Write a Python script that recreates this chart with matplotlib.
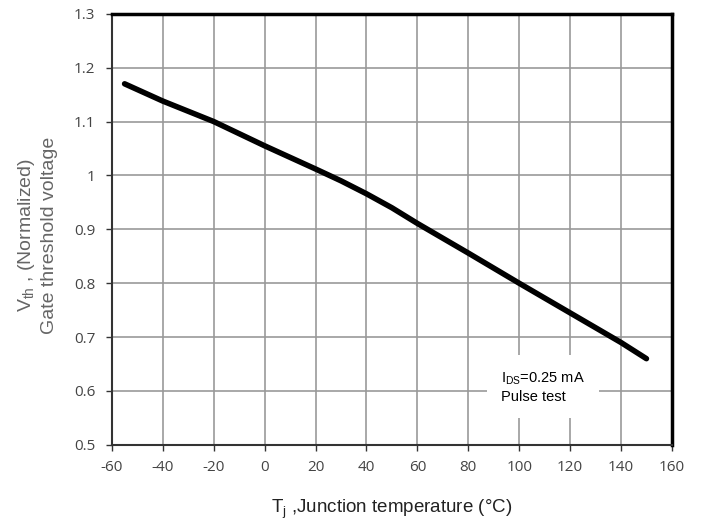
import matplotlib
matplotlib.use("Agg")
import matplotlib.pyplot as plt

plt.rcParams["axes.unicode_minus"] = False

# junction temperature (deg C) and normalized gate threshold voltage
temp = [-55, -40, -20, 0, 20, 30, 40, 50, 60, 80, 100, 120, 140, 150]
vth = [1.170, 1.138, 1.100, 1.055, 1.012, 0.990, 0.966, 0.940, 0.911, 0.856, 0.800, 0.745, 0.690, 0.660]

xticks = [-60, -40, -20, 0, 20, 40, 60, 80, 100, 120, 140, 160]
yticks = [0.5, 0.6, 0.7, 0.8, 0.9, 1.0, 1.1, 1.2, 1.3]
ylabels = ["0.5", "0.6", "0.7", "0.8", "0.9", "1", "1.1", "1.2", "1.3"]

fig = plt.figure(figsize=(7.08, 5.29), dpi=100)
ax = fig.add_axes([0.158, 0.159, 0.791, 0.815])

ax.plot(temp, vth, color="black", lw=4, solid_capstyle="round", zorder=3)

ax.set_xlim(-60, 160)
ax.set_ylim(0.5, 1.3)
ax.set_xticks(xticks)
ax.set_yticks(yticks)
ax.set_yticklabels(ylabels)
ax.grid(True, color="#999999", lw=1.2)
ax.tick_params(colors="#333333", labelsize=11, length=4, width=1, labelcolor="#444444",
               labelfontfamily="Open Sans")
ax.tick_params(axis="x", pad=7)
ax.tick_params(axis="y", pad=8)

for s in ["left", "bottom"]:
    ax.spines[s].set_color("#333333")
    ax.spines[s].set_linewidth(1.5)
for s in ["top", "right"]:
    ax.spines[s].set_color("black")
    ax.spines[s].set_linewidth(2.5)

ax.set_xlabel(r"T$_\mathregular{j}$ ,Junction temperature (°C)", family="Liberation Sans",
              fontsize=13.5, color="#222222", labelpad=16)

fig.text(0.038, 0.555, r"V$_\mathregular{th}$ , (Normalized)", rotation=90, ha="center", va="center",
         family="Liberation Sans", fontsize=14, color="#666666")
fig.text(0.070, 0.555, "Gate threshold voltage", rotation=90, ha="center", va="center",
         family="Liberation Sans", fontsize=14, color="#666666")

ax.text(93, 0.607, r"I$_\mathregular{DS}$=0.25 mA" + "\nPulse test", family="Liberation Sans",
        fontsize=10.5, ha="left", va="center", linespacing=1.3,
        bbox=dict(facecolor="white", edgecolor="none", pad=10), zorder=4)

fig.savefig("out.png", dpi=100)
